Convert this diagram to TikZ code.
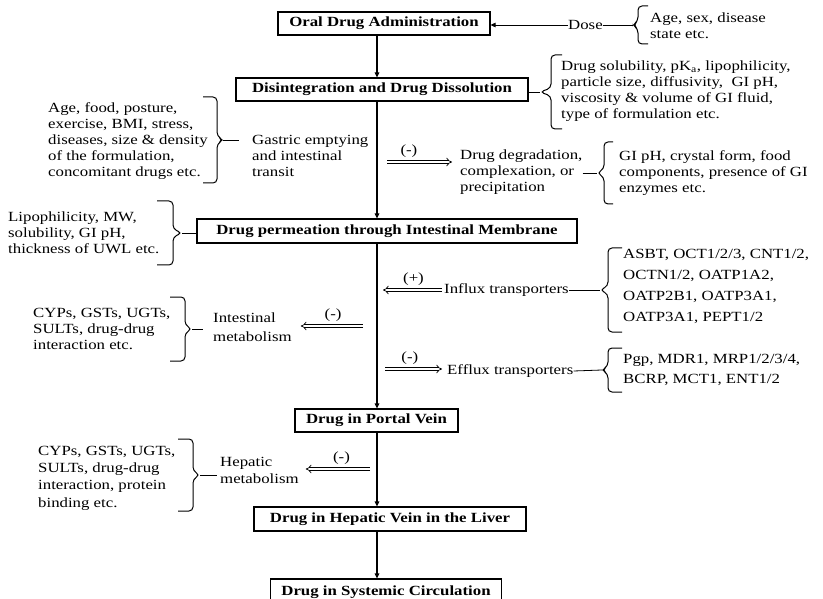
\documentclass[tikz,border=0pt]{standalone}
\usepackage{fontspec}
\setmainfont{Liberation Serif}[FakeStretch=1.2]
\usetikzlibrary{arrows.meta,positioning,calc}

% hook x, spine x, tip x, top y, bottom y
\newcommand{\sidebrace}[5]{%
	\draw[bracket] (#1,#4) -- (#2,#4) -- (#2,{(#4+#5)/2-4}) -- (#3,{(#4+#5)/2})
		-- (#2,{(#4+#5)/2+4}) -- (#2,#5) -- (#1,#5);}

\begin{document}
\begin{tikzpicture}[
	x=1pt,y=-1pt,
	font=\fontsize{14}{16}\selectfont,
	stage/.style={draw,rectangle,line width=1.1pt,minimum height=23,inner sep=0,font=\fontsize{14}{16}\selectfont\bfseries},
	note/.style={anchor=west,align=left,inner sep=0},
	flow/.style={-{Triangle[length=5pt,width=4.5pt]},line width=1.1pt},
	hollow/.style={double,double distance=2.2pt,line width=0.7pt,-{Implies}},
	bracket/.style={line width=1pt,rounded corners=4pt},
	link/.style={line width=0.8pt}
	]
	\useasboundingbox (0,0) rectangle (823,599);
	\coordinate (spine) at (377,0);
	
	% main chain
	\node[stage,minimum width=212] (oral) at (384,23.5) {Oral Drug Administration};
	\node[stage,minimum width=292] (disint) at (382,89.5) {Disintegration and Drug Dissolution};
	\node[stage,minimum width=380,minimum height=24] (perm) at (387,231) {Drug permeation through Intestinal Membrane};
	\node[stage,minimum width=163] (portal) at (376.5,420.5) {Drug in Portal Vein};
	\node[stage,minimum width=272,minimum height=24] (hepvein) at (390,519) {Drug in Hepatic Vein in the Liver};
	\node[stage,minimum width=231,minimum height=26] (systemic) at (386,592) {Drug in Systemic Circulation};
	
	\draw[flow] (oral.south -| spine) -- (disint.north -| spine);
	\draw[flow] (disint.south -| spine) -- (perm.north -| spine);
	\draw[flow] (perm.south -| spine) -- (portal.north -| spine);
	\draw[flow] (portal.south -| spine) -- (hepvein.north -| spine);
	\draw[flow] (hepvein.south -| spine) -- (systemic.north -| spine);
	
	% dose
	\node[note] (dose) at (568,25) {Dose};
	\node[note] (doseinfo) at (650,25.5) {Age, sex, disease\\state etc.};
	\coordinate (dosetip) at (633,25);
	\sidebrace{648}{638}{633}{6}{44}
	\draw[flow,line width=0.8pt] (dose.west) -- (dose.west -| oral.east);
	\draw[link] (dose.east) -- (dosetip);
	
	% dissolution
	\node[note] (solinfo) at (561,91) {Drug solubility, pK\textsubscript{a}, lipophilicity,\\particle size, diffusivity, \ GI pH,\\viscosity \& volume of GI fluid,\\type of formulation etc.};
	\coordinate (soltip) at (540,92);
	\sidebrace{562}{551}{540}{55}{129}
	\draw[link] (soltip -| disint.east) -- (soltip);
	
	% gastric emptying
	\node[note] (gastric) at (252,156) {Gastric emptying\\and intestinal\\transit};
	\node[note] (ageinfo) at (48,141) {Age, food, posture,\\exercise, BMI, stress,\\diseases, size \& density\\of the formulation,\\concomitant drugs etc.};
	\coordinate (agetip) at (223,140);
	\sidebrace{203}{217}{223}{97}{183}
	\draw[link,shorten >=13pt] (agetip) -- (agetip -| gastric.west);
	
	% degradation
	\coordinate (degstart) at (387,162);
	\node[note] (degrad) at (460,172) {Drug degradation,\\complexation, or\\precipitation};
	\draw[hollow,shorten >=8pt] (degstart) -- (degstart -| degrad.west) node[pos=0.3,above=1pt] {(-)};
	\node[note] (giinfo) at (619,173) {GI pH, crystal form, food\\components, presence of GI\\enzymes etc.};
	\coordinate (gitip) at (597,173);
	\sidebrace{613}{604}{597}{142}{204}
	\draw[link] (gitip -| degrad.east) -- (gitip);
	
	% permeation
	\node[note] (lipoinfo) at (8,233) {Lipophilicity, MW,\\solubility, GI pH,\\thickness of UWL etc.};
	\coordinate (lipotip) at (182,233);
	\sidebrace{157}{173}{182}{201}{265}
	\draw[link] (lipotip) -- (lipotip -| perm.west);
	
	% influx
	\node[note] (influx) at (444,290) {Influx transporters};
	\coordinate (inend) at (383,290);
	\draw[hollow,shorten <=2pt] (influx.west) -- (inend) node[midway,above=1pt] {(+)};
	\node[note,font=\fontsize{14}{21}\selectfont] (asbtinfo) at (623,286) {ASBT, OCT1/2/3, CNT1/2,\\OCTN1/2, OATP1A2,\\OATP2B1, OATP3A1,\\OATP3A1, PEPT1/2};
	\coordinate (asbttip) at (600,290);
	\sidebrace{622}{608}{600}{248}{332}
	\draw[link] (influx.east) -- (asbttip);
	
	% intestinal metabolism
	\node[note,font=\fontsize{14}{19}\selectfont] (intmet) at (213,327) {Intestinal\\metabolism};
	\coordinate (imstart) at (363,326);
	\draw[hollow,shorten >=9pt] (imstart) -- (imstart -| intmet.east) node[pos=0.42,above=1pt] {(-)};
	\node[note] (cypinfo) at (33,329) {CYPs, GSTs, UGTs,\\SULTs, drug-drug\\interaction etc.};
	\coordinate (cyptip) at (192,329);
	\sidebrace{170}{185}{192}{297}{361}
	\draw[link,shorten >=10pt] (cyptip) -- (cyptip -| intmet.west);
	
	% efflux
	\coordinate (efstart) at (385,369);
	\node[note] (efflux) at (447,371) {Efflux transporters};
	\draw[hollow,shorten >=5pt] (efstart) -- (efstart -| efflux.west) node[pos=0.4,above=1pt] {(-)};
	\node[note,font=\fontsize{14}{20}\selectfont] (pgpinfo) at (623,370) {Pgp, MDR1, MRP1/2/3/4,\\BCRP, MCT1, ENT1/2};
	\coordinate (pgptip) at (602,370);
	\sidebrace{622}{608}{602}{348}{392}
	\draw[link] (efflux.east) -- (pgptip);
	
	% hepatic metabolism
	\node[note,font=\fontsize{14}{17}\selectfont] (hepmet) at (220,470.5) {Hepatic\\metabolism};
	\coordinate (hmstart) at (370,469);
	\draw[hollow,shorten >=7pt] (hmstart) -- (hmstart -| hepmet.east) node[pos=0.4,above=1pt] {(-)};
	\node[note,font=\fontsize{14}{17.3}\selectfont] (cyp2info) at (38,478) {CYPs, GSTs, UGTs,\\SULTs, drug-drug\\interaction, protein\\binding etc.};
	\coordinate (cyp2tip) at (200,475);
	\sidebrace{178}{193}{200}{439}{511}
	\draw[link,shorten >=3pt] (cyp2tip) -- (cyp2tip -| hepmet.west);
\end{tikzpicture}
\end{document}
